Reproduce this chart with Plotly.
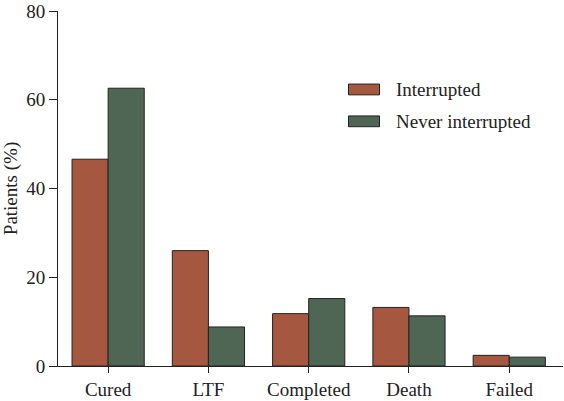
import plotly.graph_objects as go

categories = ["Cured", "LTF", "Completed", "Death", "Failed"]
interrupted = [46.6, 26.0, 11.8, 13.2, 2.4]
never_interrupted = [62.6, 8.8, 15.2, 11.3, 2.0]
y_ticks = [0, 20, 40, 60, 80]
series_names = ["Interrupted", "Never interrupted"]
series_colors = ["#A5573F", "#4F6655"]

font = dict(family="Liberation Serif", size=19, color="#222222")
edge = "#222222"

fig = go.Figure()
for name, vals, col in zip(series_names, [interrupted, never_interrupted], series_colors):
    fig.add_trace(go.Bar(x=categories, y=vals, name=name, showlegend=False,
                         marker=dict(color=col, line=dict(color=edge, width=1))))

# custom legend (wide swatches like the reference)
L, R, T, B = 58, 563, 8, 370
def px_x(p): return (p - L) / (R - L)
def px_y(p): return (B - p) / (B - T)
legend_rows = [(82.5, 93.5, 88.5), (115, 126, 120.5)]
for (y0, y1, yc), name, col in zip(legend_rows, series_names, series_colors):
    fig.add_shape(type="rect", xref="paper", yref="paper",
                  x0=px_x(348.5), x1=px_x(379.5), y0=px_y(y1), y1=px_y(y0),
                  fillcolor=col, line=dict(color=edge, width=1))
    fig.add_annotation(xref="paper", yref="paper", x=px_x(394), y=px_y(yc),
                       text=name, showarrow=False, xanchor="left", yanchor="middle",
                       font=font)

fig.update_layout(
    width=564, height=401,
    margin=dict(l=L, r=564 - R, t=T, b=401 - B),
    paper_bgcolor="white", plot_bgcolor="white",
    barmode="group", bargap=0.28, bargroupgap=0,
    font=font,
    xaxis=dict(range=[-0.5, 4.536], showline=True, linecolor=edge, linewidth=1,
               ticks="outside", ticklen=6, tickcolor=edge, showgrid=False,
               zeroline=False, tickfont=font, ticklabeloverflow="allow"),
    yaxis=dict(range=[0, 80], tickvals=y_ticks, showline=True, linecolor=edge,
               linewidth=1, ticks="outside", ticklen=8, tickcolor=edge,
               showgrid=False, zeroline=False, tickfont=font,
               ticklabeloverflow="allow",
               title=dict(text="Patients (%)", font=font, standoff=6)),
)

fig.write_html("out.html", config={"displayModeBar": False},
               post_script="document.body.style.margin='0';document.body.style.overflow='hidden';")
